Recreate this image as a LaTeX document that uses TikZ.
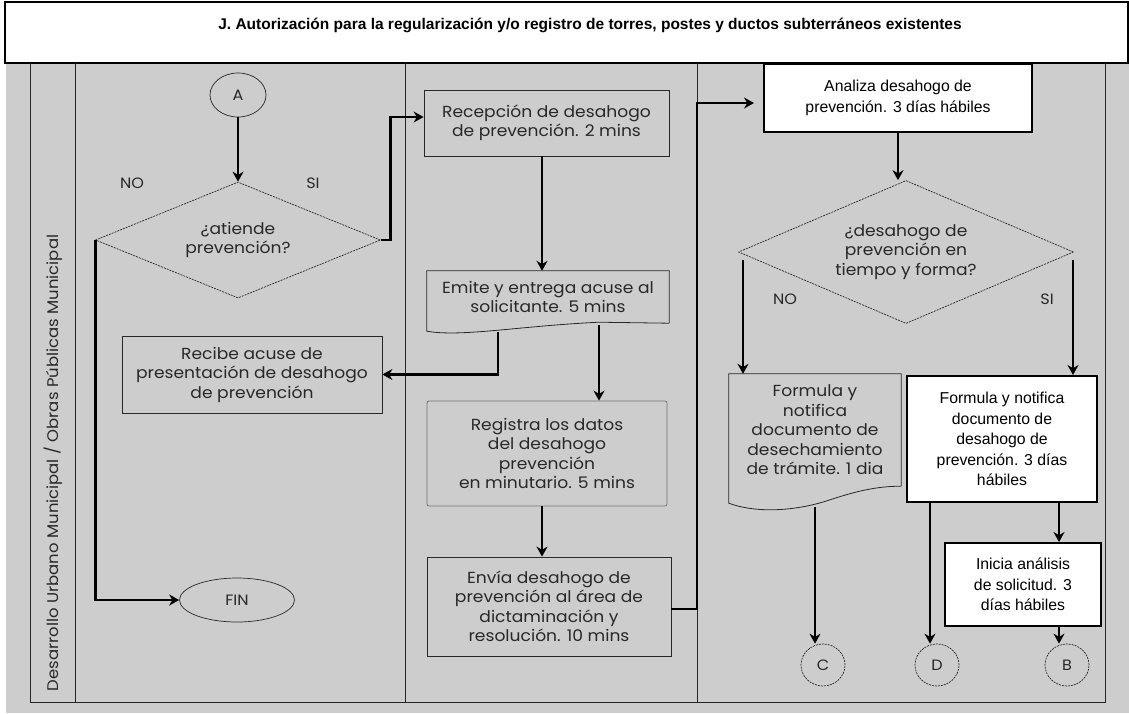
\documentclass[tikz,border=0pt]{standalone}
\usepackage{fontspec}
\setmainfont{Liberation Sans}
\newfontfamily\gothic[FakeStretch=1.07]{Poppins}
\usetikzlibrary{shapes.geometric,arrows.meta,calc}
\definecolor{bg}{RGB}{205,205,205}
\definecolor{ink}{RGB}{40,40,40}
\tikzset{
  gfont/.style={font=\gothic\fontsize{16}{19.5}\selectfont, text=ink},
  afont/.style={font=\fontsize{15.8}{20.5}\selectfont},
  gbox/.style={gfont, draw=ink, line width=0.8pt, align=center, inner sep=0pt},
  wbox/.style={afont, draw=black, fill=white, line width=2pt, align=center, inner sep=0pt},
  conn/.style={line width=2.8pt, -{Stealth[length=10pt,width=11pt]}},
  lane/.style={line width=0.8pt, draw=black!85},
  dashedshape/.style={draw=ink, line width=0.7pt, dash pattern=on 2pt off 1pt},
  lbl/.style={font=\gothic\fontsize{15}{17}\selectfont, text=ink},
}
\begin{document}
\begin{tikzpicture}[x=1pt,y=-1pt]
\useasboundingbox (0,0) rectangle (1129,713);
% background
\fill[bg] (6,63) rectangle (1129,713);
\draw[line width=1.6pt, fill=white] (5,2) rectangle (1128,63);
\node[font=\bfseries\fontsize{15.5}{17}\selectfont] (title) at (590,25)
  {J. Autorización para la regularización y/o registro de torres, postes y ductos subterráneos existentes};
% lanes
\draw[lane] (30,63) -- (30,703);
\draw[lane] (75,63) -- (75,703);
\draw[lane] (405,63) -- (405,703);
\draw[lane] (697,63) -- (697,703);
\draw[lane] (1105,63) -- (1105,703);
\draw[lane] (30,702) -- (1105,702);
\node[gfont, font=\gothic\fontsize{15.4}{19}\selectfont, rotate=90] (lanelbl) at (53,463) {Desarrollo Urbano Municipal / Obras Públicas Municipal};
% column 1
\node[lbl, ellipse, draw=ink, line width=0.7pt, minimum width=56pt, minimum height=44pt, inner sep=0pt] (A) at (238,95) {A};
\node[gfont, diamond, dashedshape, aspect=2.4, minimum width=285pt, minimum height=116pt, inner sep=0pt, align=center] (d1) at (238,240) {¿atiende\\prevención?};
\node[lbl] (no1) at (132,183) {NO};
\node[lbl] (si1) at (313,183) {SI};
\node[gbox, minimum width=260pt, minimum height=77pt] (recibe) at (252,374.5) {Recibe acuse de\\presentación de desahogo\\de prevención};
\node[lbl, ellipse, draw=ink, line width=0.7pt, minimum width=115pt, minimum height=44pt, inner sep=0pt] (fin) at (237,600) {FIN};
% column 2
\node[gbox, minimum width=245pt, minimum height=66pt] (rec) at (546.5,123) {Recepción de desahogo\\de prevención. 2 mins};
\node[gfont, align=center, minimum width=242pt, minimum height=52pt, inner sep=0pt] (emite) at (548,297) {Emite y entrega acuse al\\solicitante. 5 mins};
\draw[draw=ink, line width=0.8pt] (emite.south east) -- (emite.north east) -- (emite.north west) -- ($(emite.south west)+(0,8)$)
  .. controls ($(emite.south west)+(35,14)$) and ($(emite.south west)+(90,3)$) .. ($(emite.south west)+(172,-1)$) -- (emite.south east);
\node[gbox, rounded corners=2pt, draw=black!55, minimum width=240pt, minimum height=105pt] (reg) at (547,453.5) {Registra los datos\\del desahogo\\prevención\\en minutario. 5 mins};
\node[gbox, minimum width=244pt, minimum height=99pt] (env) at (549,606.5) {Envía desahogo de\\prevención al área de\\dictaminación y\\resolución. 10 mins};
% column 3
\node[wbox, minimum width=268pt, minimum height=68pt] (ana) at (898,98) {Analiza desahogo de\\prevención. 3 días hábiles};
\node[gfont, diamond, dashedshape, aspect=2.3, minimum width=335pt, minimum height=143pt, inner sep=0pt, align=center] (d2) at (906,252) {¿desahogo de\\prevención en\\tiempo y forma?};
\node[lbl] (no2) at (785,299) {NO};
\node[lbl] (si2) at (1047,299) {SI};
\node[gfont, align=center, minimum width=172pt, minimum height=112pt, inner sep=0pt] (fdoc) at (815,430) {Formula y\\notifica\\documento de\\desechamiento\\de trámite. 1 dia};
\draw[draw=ink, line width=0.8pt] ($(fdoc.south east)+(0,0)$) -- (fdoc.north east) -- (fdoc.north west) -- ($(fdoc.south west)+(0,17)$)
  .. controls ($(fdoc.south west)+(30,28)$) and ($(fdoc.south west)+(70,24)$) .. ($(fdoc.south west)+(100,14)$)
  .. controls ($(fdoc.south west)+(130,4)$) and ($(fdoc.south west)+(150,0)$) .. (fdoc.south east);
\node[wbox, minimum width=190pt, minimum height=126pt] (box2) at (1002,439) {Formula y notifica\\documento de\\desahogo de\\prevención. 3 días\\hábiles};
\node[wbox, minimum width=156pt, minimum height=83pt] (ini) at (1023,584.5) {Inicia análisis\\de solicitud. 3\\días hábiles};
\node[lbl, ellipse, dashedshape, minimum width=44pt, minimum height=42pt, inner sep=0pt] (C) at (823,665) {C};
\node[lbl, ellipse, dashedshape, minimum width=44pt, minimum height=42pt, inner sep=0pt] (D) at (937,665) {D};
\node[lbl, ellipse, dashedshape, minimum width=44pt, minimum height=42pt, inner sep=0pt] (B) at (1067,665) {B};
% connector coordinates
\coordinate (e1) at (498,332);
\coordinate (e2) at (599,325);
\coordinate (n1) at (743,260);
\coordinate (s1) at (1073,260);
\coordinate (fb) at (815,507);
\coordinate (b2a) at (930,502);
\coordinate (b2b) at (1059,502);
\coordinate (b3) at (1059,626);
% connectors
\draw[conn] (A) -- (d1.north);
\draw[conn] (d1.west) |- (fin.west);
\draw[conn] (d1.east) -- ++(10,0) |- ($(rec.west)+(0,-6)$);
\draw[conn] (rec.south -| 542,0) -- (emite.north -| 542,0);
\draw[conn] (e1) |- (recibe.east);
\draw[conn] (e2) -- (e2 |- reg.north);
\draw[conn] (reg.south -| 542,0) -- (env.north -| 542,0);
\draw[conn] ($(env.east)+(0,2.5)$) -| (697,103) -- ($(ana.west)+(-9,5)$);
\draw[conn] (ana.south) -- (ana.south |- d2.north);
\draw[conn] (n1) -- (n1 |- fdoc.north);
\draw[conn] (s1) -- (s1 |- box2.north);
\draw[conn] (fb) -- (fb |- C.north);
\draw[conn] (b2a) -- (b2a |- D.north);
\draw[conn] (b2b) -- (b2b |- ini.north);
\draw[conn] (b3) -- (b3 |- B.north);
\end{tikzpicture}
\end{document}
